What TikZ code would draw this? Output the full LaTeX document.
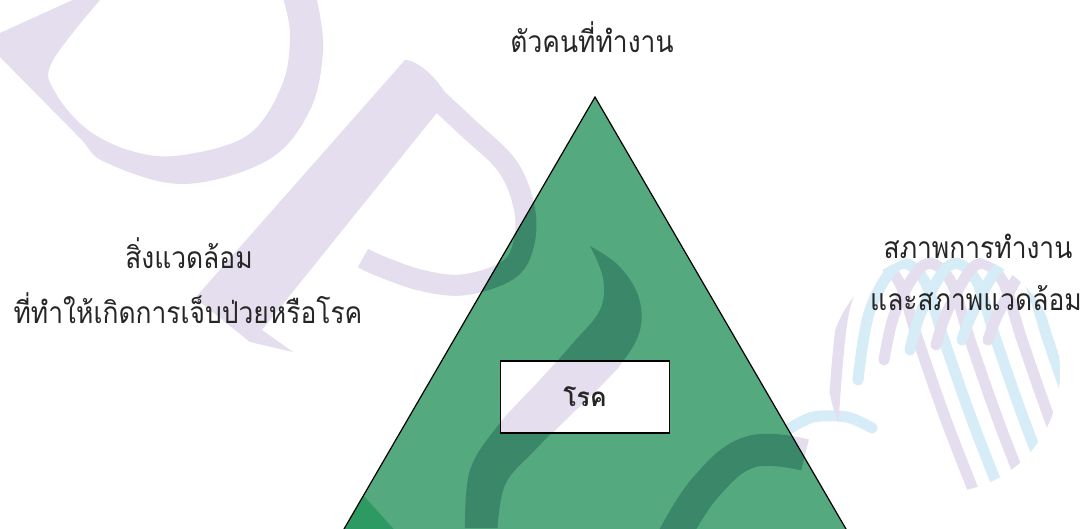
\documentclass[tikz,border=0pt]{standalone}
\usepackage{fontspec}
\newfontfamily\thai[Script=Thai]{Loma}
\definecolor{lav}{RGB}{228,222,238}
\definecolor{lblue}{RGB}{214,236,246}
\definecolor{tgreen}{RGB}{84,169,126}
\definecolor{dgreen}{RGB}{59,135,106}
\definecolor{bgreen}{RGB}{46,154,99}
\definecolor{ink}{RGB}{38,38,38}
\newcommand{\cond}[1]{\scalebox{0.88}[1]{#1}}
\tikzset{
  lbl/.style={font=\thai\fontsize{30}{34}\selectfont, text=ink, inner sep=0pt, anchor=base},
  boxnode/.style={draw=black, line width=1.5pt, minimum width=169pt, minimum height=72pt, inner sep=0pt},
  boxtext/.style={font=\thai\bfseries\fontsize{26}{30}\selectfont, text=ink, inner sep=0pt},
  ribbon/.style={line width=11pt, line cap=round},
}
% watermark pieces (pixel coordinates, y downwards)
\newcommand{\wmD}{%
  \fill (0,33) -- (77,-2) -- (100,-2) -- plot[smooth,tension=0.6] coordinates {(100,0) (52,62) (55,92) (88,130) (135,152) (183,155) (248,135) (282,85) (290,35) (283,-2)} -- (317,-2) -- plot[smooth,tension=0.6] coordinates {(317,0) (323,50) (310,110) (268,160) (183,184) (105,162) (77,135) (0,57)} -- cycle;}
\newcommand{\wmP}{%
  \fill (195,298) -- (405,60) .. controls (418,60) and (440,80) .. (448,99) -- (262,330) -- (293,352) -- (250,342) -- cycle;
  \draw[line width=21pt] plot[smooth,tension=0.6] coordinates {(425,88) (467,127) (508,167) (525,212) (522,250) (505,272) (462,285) (420,280) (380,266) (363,258)};}
\newcommand{\wmSband}{%
  \fill plot[smooth,tension=0.6] coordinates {(590,246) (618,265) (638,295) (640,330) (620,365) (580,405) (535,450) (505,485) (497,535)} -- (465,535) -- plot[smooth,tension=0.6] coordinates {(465,530) (470,470) (500,423) (540,380) (573,343) (600,310) (603,278) (590,246)} -- cycle;}
\newcommand{\wmU}{%
  \draw[line width=32pt] plot[smooth,tension=0.7] coordinates {(805,455) (750,452) (705,488) (672,540)};}
% one arched ribbon of the ball
\newcommand{\arch}[3]{%
  \draw[#2] plot[smooth,tension=0.6] coordinates {(#1-4,#3) (#1+8,310) (#1+36,265) (#1+62,280) (#1+82,340) (#1+110,420) (#1+138,492)};}
\begin{document}
\begin{tikzpicture}[x=1pt,y=-1pt]
\useasboundingbox (0,0) rectangle (1086,528);
\clip (0,0) rectangle (1086,528);
\fill[white] (0,0) rectangle (1086,528);
% watermark on the page
\begin{scope}[fill=lav,draw=lav]
  \wmD
  \wmP
  \wmSband
  \wmU
\end{scope}
% spiral ball
\begin{scope}[ribbon]
  \draw[lblue] plot[smooth] coordinates {(787,430) (813,417) (847,417) (872,428)};
  \begin{scope}
    \clip (944,372) ellipse [x radius=116, y radius=120];
    \arch{836}{lav}{440}
    \arch{862}{lblue}{380}
    \arch{888}{lav}{360}
    \arch{914}{lblue}{350}
    \arch{940}{lav}{345}
    \arch{966}{lblue}{340}
    \arch{992}{lav}{340}
  \end{scope}
\end{scope}
% triangle, with the box area left open
\coordinate (apex) at (595,97);
\coordinate (bl) at (326,560);
\coordinate (br) at (864,560);
\coordinate (bnw) at (500.5,361);
\coordinate (bsw) at (500.5,433);
\coordinate (bse) at (669.5,433);
\coordinate (bne) at (669.5,361);
\fill[tgreen, even odd rule] (apex) -- (br) -- (bl) -- cycle (bnw) -- (bsw) -- (bse) -- (bne) -- cycle;
\begin{scope}
  \clip (0,0) -- (1086,0) -- (1086,528) -- (0,528) -- cycle (bnw) -- (bsw) -- (bse) -- (bne) -- cycle;
  \begin{scope}[fill=dgreen]
    \wmSband
  \end{scope}
\end{scope}
\begin{scope}
  \clip (apex) -- (br) -- (bl) -- cycle;
  \begin{scope}[fill=dgreen,draw=dgreen]
    \wmP
    \wmU
  \end{scope}
  \fill[bgreen] (362,494) -- (400,536) -- (330,536) -- cycle;
\end{scope}
\draw[black, line width=1.2pt, line join=miter] (bl) -- (apex) -- (br);
% disease box: frame, watermark band inside, then its text
\node[boxnode] (disease) at (585,397) {};
\fill[fill={rgb,255:red,228;green,222;blue,238}] (556,362.5) -- (621,362.5) -- (619,367) -- (600,387) -- (578,408) -- (554,431.5) -- (502,431.5) -- (502,423) -- (513,409) -- (540,380) -- cycle;
\node[boxtext] (diseaselbl) at (disease.center) {\raisebox{-6pt}{\scalebox{0.95}[1]{โรค}}};
% labels
\node[lbl] (person) at (592,52) {\cond{ตัวคนที่ทำงาน}};
\node[lbl] (env1) at (189,268) {\cond{สิ่งแวดล้อม}};
\node[lbl] (env2) at (188,323) {\cond{ที่ทำให้เกิดการเจ็บป่วยหรือโรค}};
\node[lbl] (work1) at (978,258) {\cond{สภาพการทำงาน}};
\node[lbl] (work2) at (976,310) {\cond{และสภาพแวดล้อม}};
\end{tikzpicture}
\end{document}
